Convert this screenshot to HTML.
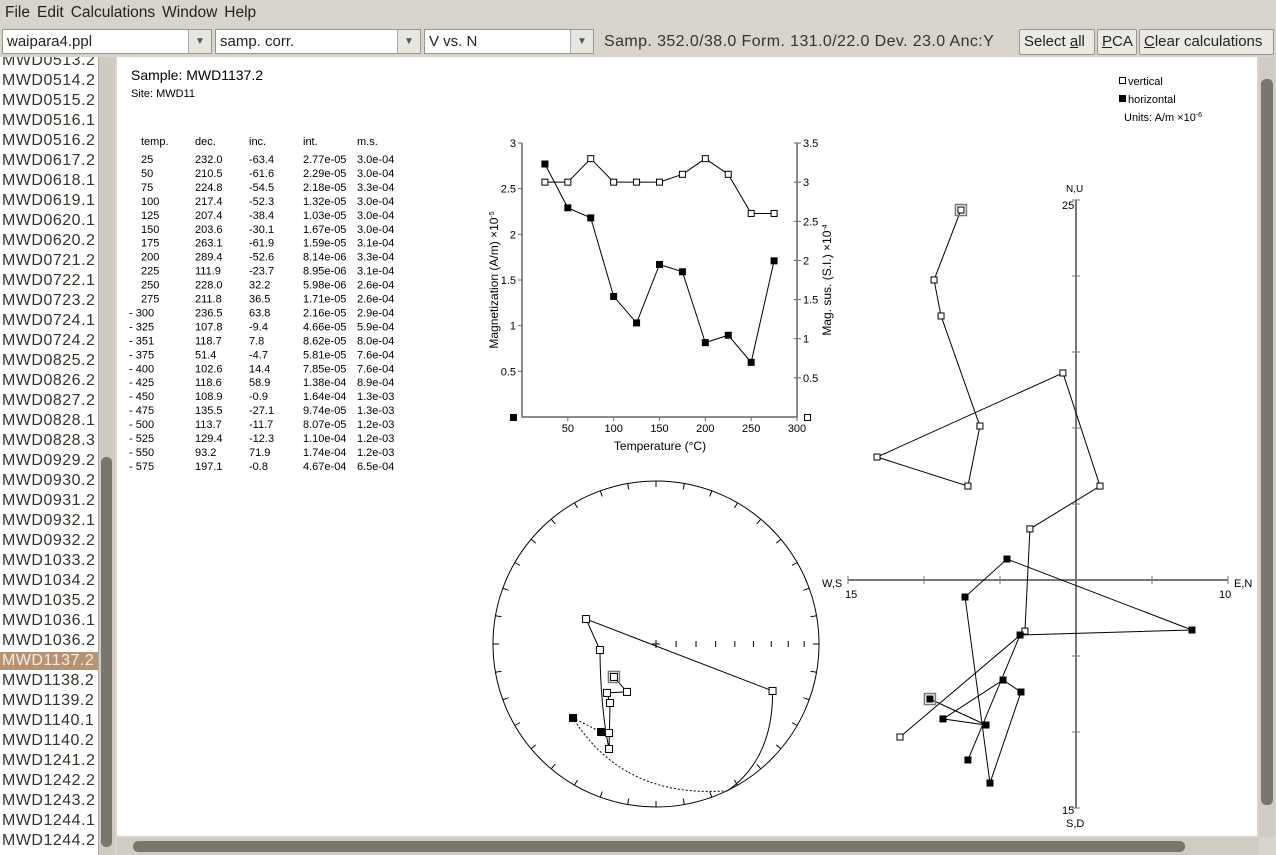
<!DOCTYPE html>
<html><head><meta charset="utf-8"><style>
body{margin:0;width:1276px;height:855px;overflow:hidden;background:#d8d4cc;font-family:"Liberation Sans",sans-serif;position:relative}
.abs{position:absolute}
.menu span{margin-right:7px;font-size:15.5px;color:#222}
.combo{position:absolute;top:29px;height:25px;background:#fff;border:1px solid #9a968e;box-sizing:border-box;font-size:15px;padding:3px 4px;color:#222}
.combo .arr{position:absolute;right:0;top:0;width:22px;height:23px;border-left:1px solid #aaa;background:#e8e6e0;font-size:10px;text-align:center;line-height:23px;color:#555}
.btn{position:absolute;top:29px;height:26px;border:1px solid #9a968e;border-radius:2px;background:#ebe9e4;font-size:15px;padding:3px 4px;box-sizing:border-box;color:#222}
.item{position:absolute;left:2px;font-size:16px;color:#34342c;letter-spacing:0.5px}
</style></head><body>
<div class="abs menu" style="left:5px;top:4px">
<span>File</span><span>Edit</span><span>Calculations</span><span>Window</span><span>Help</span></div>
<div class="combo" style="left:2px;width:210px">waipara4.ppl<div class="arr">▼</div></div>
<div class="combo" style="left:215px;width:206px">samp. corr.<div class="arr">▼</div></div>
<div class="combo" style="left:424px;width:170px">V vs. N<div class="arr">▼</div></div>
<div class="abs" style="left:604px;top:33px;font-size:16px;letter-spacing:0.4px;color:#333">Samp. 352.0/38.0 Form. 131.0/22.0 Dev. 23.0 Anc:Y</div>
<div class="btn" style="left:1019px;width:76px">Select <u>a</u>ll</div>
<div class="btn" style="left:1097px;width:40px"><u>P</u>CA</div>
<div class="btn" style="left:1139px;width:135px"><u>C</u>lear calculations</div>

<div class="abs" style="left:0;top:57px;width:98px;height:798px;background:#fff;overflow:hidden" id="list"></div>
<div class="abs" style="left:98px;top:57px;width:16px;height:798px;background:#cfcbc2;border-left:1px solid #aaa">
<div class="abs" style="left:2px;top:400px;width:11px;height:390px;background:#7a766d;border-radius:5px"></div></div>
<div class="abs" style="left:117px;top:57px;width:1140px;height:779px;background:#fff"></div>
<div class="abs" style="left:1259px;top:57px;width:16px;height:780px;background:#d0ccc4">
<div class="abs" style="left:2px;top:22px;width:12px;height:726px;background:#7a766d;border-radius:5px"></div></div>
<div class="abs" style="left:117px;top:838px;width:1142px;height:17px;background:#d0ccc4">
<div class="abs" style="left:16px;top:3px;width:1052px;height:11px;background:#7a766d;border-radius:5px"></div></div>

<svg class="abs" style="left:0;top:0" width="1276" height="855" id="svg" font-family="Liberation Sans, sans-serif">
<text x="131" y="80" font-size="14">Sample: MWD1137.2</text>
<text x="131" y="97" font-size="11">Site: MWD11</text>
<g font-size="11">
<rect x="1119.5" y="77.5" width="6" height="6" fill="#fff" stroke="#000"/><text x="1128" y="85">vertical</text>
<rect x="1119" y="95" width="7" height="7" fill="#000"/><text x="1128" y="103">horizontal</text>
<text x="1124" y="121">Units: A/m ×10<tspan font-size="7" dy="-4">-6</tspan></text></g>
<g id="table" font-size="11"></g>
<g id="mag"></g>
<g id="stereo"></g>
<g id="zij"></g>
</svg>
<script>
const NS="http://www.w3.org/2000/svg";
function mk(p,t,a){const e=document.createElementNS(NS,t);for(const k in a)e.setAttribute(k,a[k]);p.appendChild(e);return e;}
const samples=["MWD0513.2","MWD0514.2","MWD0515.2","MWD0516.1","MWD0516.2","MWD0617.2","MWD0618.1","MWD0619.1","MWD0620.1","MWD0620.2","MWD0721.2","MWD0722.1","MWD0723.2","MWD0724.1","MWD0724.2","MWD0825.2","MWD0826.2","MWD0827.2","MWD0828.1","MWD0828.3","MWD0929.2","MWD0930.2","MWD0931.2","MWD0932.1","MWD0932.2","MWD1033.2","MWD1034.2","MWD1035.2","MWD1036.1","MWD1036.2","MWD1137.2","MWD1138.2","MWD1139.2","MWD1140.1","MWD1140.2","MWD1241.2","MWD1242.2","MWD1243.2","MWD1244.1","MWD1244.2"];
const list=document.getElementById('list');
samples.forEach((s,i)=>{const d=document.createElement('div');d.className='item';d.style.top=(-5+i*20)+'px';d.textContent=s;
if(s==="MWD1137.2"){d.style.left='0';d.style.width='96px';d.style.paddingLeft='2px';d.style.background='#b99272';d.style.color='#f4eee8';}


list.appendChild(d);});
const temps=["25","50","75","100","125","150","175","200","225","250","275","- 300","- 325","- 351","- 375","- 400","- 425","- 450","- 475","- 500","- 525","- 550","- 575"];
const decs=["232.0","210.5","224.8","217.4","207.4","203.6","263.1","289.4","111.9","228.0","211.8","236.5","107.8","118.7","51.4","102.6","118.6","108.9","135.5","113.7","129.4","93.2","197.1"];
const incs=["-63.4","-61.6","-54.5","-52.3","-38.4","-30.1","-61.9","-52.6","-23.7"," 32.2"," 36.5"," 63.8","-9.4"," 7.8","-4.7"," 14.4"," 58.9","-0.9","-27.1","-11.7","-12.3"," 71.9","-0.8"];
const ints=["2.77e-05","2.29e-05","2.18e-05","1.32e-05","1.03e-05","1.67e-05","1.59e-05","8.14e-06","8.95e-06","5.98e-06","1.71e-05","2.16e-05","4.66e-05","8.62e-05","5.81e-05","7.85e-05","1.38e-04","1.64e-04","9.74e-05","8.07e-05","1.10e-04","1.74e-04","4.67e-04"];
const mss=["3.0e-04","3.0e-04","3.3e-04","3.0e-04","3.0e-04","3.0e-04","3.1e-04","3.3e-04","3.1e-04","2.6e-04","2.6e-04","2.9e-04","5.9e-04","8.0e-04","7.6e-04","7.6e-04","8.9e-04","1.3e-03","1.3e-03","1.2e-03","1.2e-03","1.2e-03","6.5e-04"];
const tb=document.getElementById('table');
[["temp.",141],["dec.",195],["inc.",249],["int.",303],["m.s.",357]].forEach(h=>{const t=mk(tb,'text',{x:h[1],y:145});t.textContent=h[0];});
temps.forEach((t,i)=>{const y=163+i*13.95;
const tx=mk(tb,'text',{x:t.startsWith('-')?129:141,y:y,'xml:space':'preserve'});tx.textContent=t.startsWith('-')?t.replace('- ','-  '):t;
[[decs,195],[incs,249],[ints,303],[mss,357]].forEach(c=>{const e=mk(tb,'text',{x:c[1],y:y,'xml:space':'preserve'});e.textContent=c[0][i];});});
const magTemps=[25,50,75,100,125,150,175,200,225,250,275];
const magVals=[2.77,2.29,2.18,1.32,1.03,1.67,1.59,0.814,0.895,0.598,1.71];
const susVals=[3.0,3.0,3.3,3.0,3.0,3.0,3.1,3.3,3.1,2.6,2.6];
const xTicks=[50,100,150,200,250,300], yTicks=[0.5,1,1.5,2,2.5,3], y2Ticks=[0.5,1,1.5,2,2.5,3,3.5];
const mg=document.getElementById('mag');
const X0=522,X1=797,YB=417,YT=143;
const xs=v=>X0+v/300*(X1-X0), ys=v=>YB-v/3*(YB-YT), ys2=v=>YB-v/3.5*(YB-YT);
mk(mg,'path',{d:`M${X0} ${YT}V${YB}H${X1}V${YT}`,fill:'none',stroke:'#666','stroke-width':1.5});
xTicks.forEach(v=>{mk(mg,'line',{x1:xs(v),x2:xs(v),y1:YB,y2:YB+4,stroke:'#666'});const t=mk(mg,'text',{x:xs(v),y:YB+15,'font-size':11,'text-anchor':'middle'});t.textContent=v;});
yTicks.forEach(v=>{mk(mg,'line',{x1:X0-4,x2:X0,y1:ys(v),y2:ys(v),stroke:'#666'});const t=mk(mg,'text',{x:X0-6,y:ys(v)+4,'font-size':11,'text-anchor':'end'});t.textContent=v;});
y2Ticks.forEach(v=>{mk(mg,'line',{x1:X1-3,x2:X1+4,y1:ys2(v),y2:ys2(v),stroke:'#666'});const t=mk(mg,'text',{x:X1+6,y:ys2(v)+4,'font-size':11});t.textContent=v;});
let tt=mk(mg,'text',{x:660,y:450,'font-size':12,'text-anchor':'middle'});tt.textContent='Temperature (°C)';
tt=mk(mg,'text',{x:0,y:0,'font-size':12,'text-anchor':'middle',transform:'translate(498,280) rotate(-90)'});tt.innerHTML='Magnetization (A/m) ×10<tspan font-size="7" dy="-4">-5</tspan>';
tt=mk(mg,'text',{x:0,y:0,'font-size':12,'text-anchor':'middle',transform:'translate(831,280) rotate(-90)'});tt.innerHTML='Mag. sus. (S.I.) ×10<tspan font-size="7" dy="-4">-4</tspan>';
mk(mg,'rect',{x:510,y:414,width:7,height:7,fill:'#000'});
mk(mg,'rect',{x:804.5,y:414.5,width:6,height:6,fill:'#fff',stroke:'#000'});
mk(mg,'polyline',{points:magTemps.map((t,i)=>xs(t)+','+ys(magVals[i])).join(' '),fill:'none',stroke:'#000'});
mk(mg,'polyline',{points:magTemps.map((t,i)=>xs(t)+','+ys2(susVals[i])).join(' '),fill:'none',stroke:'#000'});
magTemps.forEach((t,i)=>{const r=mk(mg,'rect',{x:xs(t)-3.5,y:ys(magVals[i])-3.5,width:7,height:7,fill:'#000'});


const s=mk(mg,'rect',{x:xs(t)-3,y:ys2(susVals[i])-3,width:6,height:6,fill:'#fff',stroke:'#000'});

});
const stOpenX=[0.715,-0.429,-0.344,-0.258,-0.178,-0.301,-0.282,-0.288,-0.288];
const stOpenY=[0.288,-0.153,0.037,0.202,0.294,0.300,0.362,0.546,0.644];
const stFillX=[-0.509,-0.337];
const stFillY=[0.454,0.540];
const sg=document.getElementById('stereo');
const CX=656,CY=644,R=163;
const sx=v=>CX+v*R, sy=v=>CY+v*R;
mk(sg,'circle',{cx:CX,cy:CY,r:R,fill:'none',stroke:'#000'});
for(let a=0;a<360;a+=10){const r=a*Math.PI/180;mk(sg,'line',{x1:CX+Math.sin(r)*R,y1:CY-Math.cos(r)*R,x2:CX+Math.sin(r)*(R-6),y2:CY-Math.cos(r)*(R-6),stroke:'#000'});}
for(let i=1;i<=8;i++){const x=CX+Math.sqrt(2)*Math.sin(i*10*Math.PI/360)*R;mk(sg,'line',{x1:x,x2:x,y1:CY-3,y2:CY+3,stroke:'#000'});}
mk(sg,'line',{x1:CX-4,x2:CX+4,y1:CY,y2:CY,stroke:'#000'});mk(sg,'line',{x1:CX,x2:CX,y1:CY-4,y2:CY+4,stroke:'#000'});
const O=i=>[sx(stOpenX[i]),sy(stOpenY[i])];
mk(sg,'path',{d:`M${O(0)}L${O(1)}L${O(2)}Q${sx(-0.34)},${sy(0.4)} ${O(8)}L${O(6)}L${O(5)}L${O(4)}L${O(3)}`,fill:'none',stroke:'#000'});
mk(sg,'path',{d:`M${O(0)}Q${sx(0.72)},${sy(0.7)} ${sx(0.44)},${sy(0.9)}`,fill:'none',stroke:'#000'});
mk(sg,'path',{d:`M${sx(0.44)},${sy(0.9)}Q${sx(-0.2)},${sy(0.95)} ${sx(stFillX[0])},${sy(stFillY[0])}L${sx(stFillX[1])},${sy(stFillY[1])}`,fill:'none',stroke:'#000','stroke-dasharray':'2,2'});
stOpenX.forEach((v,i)=>{const r=mk(sg,'rect',{x:sx(v)-3.5,y:sy(stOpenY[i])-3.5,width:7,height:7,fill:'#fff',stroke:'#000'});

});
mk(sg,'rect',{x:O(3)[0]-5.5,y:O(3)[1]-5.5,width:11,height:11,fill:'none',stroke:'#777','stroke-width':1.5});
stFillX.forEach((v,i)=>{const r=mk(sg,'rect',{x:sx(v)-4,y:sy(stFillY[i])-4,width:8,height:8,fill:'#000'});

});
const vertX=[-7.57,-9.34,-8.88,-6.32,-7.11,-13.09,-0.86,1.58,-3.03,-3.36,-11.58];
const vertY=[24.34,19.74,17.37,10.13,6.18,8.09,13.62,6.18,3.36,-3.36,-10.33];
const horX=[-9.61,-5.92,-8.75,-4.80,-3.62,-5.66,-7.30,-4.54,7.63,-3.68,-7.11];
const horY=[-7.83,-9.54,-9.14,-6.58,-7.37,-13.36,-1.12,1.38,-3.29,-3.62,-11.84];
const zg=document.getElementById('zij');
const ZX=1076,ZY=580,S=15.2;
const zx=v=>ZX+v*S, zy=v=>ZY-v*S;
mk(zg,'line',{x1:zx(-15),x2:zx(10),y1:ZY,y2:ZY,stroke:'#777','stroke-width':2});
mk(zg,'line',{x1:ZX,x2:ZX,y1:zy(25),y2:zy(-15),stroke:'#777','stroke-width':2});
[-15,-10,-5,5,10].forEach(v=>mk(zg,'line',{x1:zx(v),x2:zx(v),y1:ZY-4,y2:ZY+4,stroke:'#777'}));
[25,20,15,10,5,-5,-10,-15].forEach(v=>mk(zg,'line',{x1:ZX-4,x2:ZX+4,y1:zy(v),y2:zy(v),stroke:'#777'}));
[["N,U",ZX-10,192,10],["25",ZX-14,209,11],["W,S",822,587,11],["15",845,598,11],["E,N",1234,587,11],["10",1219,598,11],["15",ZX-14,814,11],["S,D",ZX-10,827,11]].forEach(l=>{const t=mk(zg,'text',{x:l[1],y:l[2],'font-size':l[3]});t.textContent=l[0];});
mk(zg,'polyline',{points:vertX.map((v,i)=>zx(v)+','+zy(vertY[i])).join(' '),fill:'none',stroke:'#000'});
mk(zg,'polyline',{points:horX.map((v,i)=>zx(v)+','+zy(horY[i])).join(' '),fill:'none',stroke:'#000'});
vertX.forEach((v,i)=>{const r=mk(zg,'rect',{x:zx(v)-3,y:zy(vertY[i])-3,width:6,height:6,fill:'#fff',stroke:'#000'});

});
horX.forEach((v,i)=>{const r=mk(zg,'rect',{x:zx(v)-3.5,y:zy(horY[i])-3.5,width:7,height:7,fill:'#000'});

});
mk(zg,'rect',{x:zx(vertX[0])-5.5,y:zy(vertY[0])-5.5,width:11,height:11,fill:'none',stroke:'#777','stroke-width':1.5});
mk(zg,'rect',{x:zx(horX[0])-5.5,y:zy(horY[0])-5.5,width:11,height:11,fill:'none',stroke:'#777','stroke-width':1.5});
</script>
</body></html>
